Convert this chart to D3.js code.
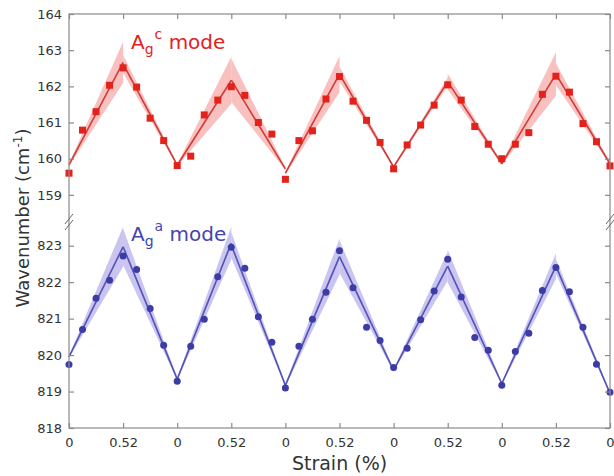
<!DOCTYPE html>
<html>
<head>
  <meta charset='utf-8'>
  <title>Strain cycling</title>
  <script src="https://cdnjs.cloudflare.com/ajax/libs/d3/7.8.5/d3.min.js"></script>
  <style>
    body { margin: 0; background: #fff; }
    text { font-family: "DejaVu Sans", Verdana, sans-serif; }
  </style>
</head>
<body>
  <svg width="614" height="476" id="chart"></svg>
  <script>

    // strain labels along x (10 half cycles, 4 steps each)
    const strainTicks = ["0", "0.52", "0", "0.52", "0", "0.52", "0", "0.52", "0", "0.52", "0"];
    const topTicks = [159, 160, 161, 162, 163, 164];
    const bottomTicks = [818, 819, 820, 821, 822, 823];

    // Ag^c mode (cm-1), one value per strain step
    const redValues = [159.6, 160.79, 161.3, 162.03, 162.51, 161.98, 161.12, 160.5, 159.81,
      160.07, 161.21, 161.62, 161.99, 161.75, 161.0, 160.68, 159.43,
      160.5, 160.77, 161.65, 162.27, 161.59, 161.06, 160.45, 159.72,
      160.38, 160.93, 161.48, 162.04, 161.62, 160.89, 160.4, 160.0,
      160.4, 160.72, 161.78, 162.28, 161.84, 160.97, 160.47, 159.8];
    // Ag^a mode (cm-1)
    const blueValues = [819.74, 820.7, 821.56, 822.05, 822.72, 822.35, 821.28, 820.27, 819.28,
      820.24, 820.98, 822.15, 822.96, 822.38, 821.05, 820.35, 819.1,
      820.24, 820.98, 821.72, 822.86, 821.85, 820.76, 820.4, 819.66,
      820.19, 820.97, 821.76, 822.63, 821.59, 820.48, 820.13, 819.17,
      820.1, 820.6, 821.77, 822.4, 821.74, 820.76, 819.75, 818.98];

    // linear fits per half cycle: value at start / end, band half width at the peak end
    const redFitStart = [159.83, 162.62, 159.82, 162.17, 159.6, 162.34, 159.77, 162.13, 159.86, 162.34];
    const redFitEnd = [162.66, 159.82, 162.17, 159.72, 162.34, 159.77, 162.13, 159.86, 162.34, 159.86];
    const redBand = [0.57, 0.25, 0.65, 0.6, 0.5, 0.2, 0.12, 0.22, 0.6, 0.3];

    const blueFitStart = [819.95, 822.97, 819.34, 823.02, 819.17, 822.7, 819.58, 822.44, 819.22, 822.44];
    const blueFitEnd = [822.97, 819.34, 823.07, 819.17, 822.7, 819.58, 822.44, 819.22, 822.44, 818.95];
    const blueBand = [0.55, 0.5, 0.45, 0.35, 0.5, 0.45, 0.4, 0.45, 0.35, 0.2];

    const svg = d3.select('#chart');
    const mLeft = 69, mRight = 610, mTop = 14, mBottom = 428, brk = 222;

    const x = d3.scaleLinear().domain([0, 40]).range([mLeft, mRight]);
    const yTop = d3.scaleLinear().domain([158.25, 164]).range([brk, mTop]);
    const yBot = d3.scaleLinear().domain([818, 823.65]).range([mBottom, brk]);

    const axisColor = '#8a8a8a';
    const labelColor = '#333';

    function drawSeries(values, fitStart, fitEnd, band, y, c) {
      const segs = fitStart.map((s, i) => {
        const rising = i % 2 === 0;
        const w0 = rising ? 0.03 : band[i];
        const w1 = rising ? band[i] : 0.03;
        return [
          { x: i * 4, v: s, w: w0 },
          { x: i * 4 + 4, v: fitEnd[i], w: w1 }
        ];
      });
      const area = d3.area()
        .x(d => x(d.x))
        .y0(d => y(d.v - d.w))
        .y1(d => y(d.v + d.w));
      const line = d3.line().x(d => x(d.x)).y(d => y(d.v));

      svg.append('g').selectAll('path')
        .data(segs).join('path')
        .attr('d', area)
        .attr('fill', c.band)
        .attr('fill-opacity', c.bandOpacity);

      svg.append('g').selectAll('path')
        .data(segs).join('path')
        .attr('d', line)
        .attr('fill', 'none')
        .attr('stroke', c.line)
        .attr('stroke-width', 1.6);

      const pts = svg.append('g');
      if (c.shape === 'square') {
        pts.selectAll('rect').data(values).join('rect')
          .attr('x', (d, i) => x(i) - 3.5)
          .attr('y', d => y(d) - 3.5)
          .attr('width', 7).attr('height', 7)
          .attr('fill', c.marker);
      } else {
        pts.selectAll('circle').data(values).join('circle')
          .attr('cx', (d, i) => x(i))
          .attr('cy', d => y(d))
          .attr('r', 3.5)
          .attr('fill', c.marker);
      }
    }

    drawSeries(redValues, redFitStart, redFitEnd, redBand, yTop,
      { band: '#f7a5a5', bandOpacity: 0.7, line: '#d23a35', marker: '#e3221c', shape: 'square' });
    drawSeries(blueValues, blueFitStart, blueFitEnd, blueBand, yBot,
      { band: '#b4abe9', bandOpacity: 0.7, line: '#5252b8', marker: '#3c3ca6', shape: 'circle' });

    // frame
    svg.append('rect')
      .attr('x', mLeft).attr('y', mTop)
      .attr('width', mRight - mLeft).attr('height', mBottom - mTop)
      .attr('fill', 'none').attr('stroke', axisColor).attr('stroke-width', 1.2);

    // x ticks bottom + top (inward)
    const xTickPos = strainTicks.map((d, i) => i * 4);
    const gx = svg.append('g')
      .attr('transform', `translate(0,${mBottom})`)
      .call(d3.axisBottom(x).tickValues(xTickPos).tickSize(-5).tickPadding(10)
        .tickFormat((d, i) => strainTicks[i]));
    const gxTop = svg.append('g')
      .attr('transform', `translate(0,${mTop})`)
      .call(d3.axisTop(x).tickValues(xTickPos).tickSize(-5).tickFormat(''));

    // y ticks left + right, both panels
    const gyT = svg.append('g').attr('transform', `translate(${mLeft},0)`)
      .call(d3.axisLeft(yTop).tickValues(topTicks).tickSize(-5).tickPadding(7).tickFormat(d3.format('d')));
    const gyB = svg.append('g').attr('transform', `translate(${mLeft},0)`)
      .call(d3.axisLeft(yBot).tickValues(bottomTicks).tickSize(-5).tickPadding(7).tickFormat(d3.format('d')));
    const gyTR = svg.append('g').attr('transform', `translate(${mRight},0)`)
      .call(d3.axisRight(yTop).tickValues(topTicks).tickSize(-5).tickFormat(''));
    const gyBR = svg.append('g').attr('transform', `translate(${mRight},0)`)
      .call(d3.axisRight(yBot).tickValues(bottomTicks).tickSize(-5).tickFormat(''));

    [gx, gxTop, gyT, gyB, gyTR, gyBR].forEach(g => {
      g.select('.domain').remove();
      g.selectAll('line').attr('stroke', axisColor).attr('stroke-width', 1.2);
      g.selectAll('text').attr('fill', labelColor).style('font-size', '13px')
        .style('font-family', '"DejaVu Sans", Verdana, sans-serif');
    });

    // axis break marks
    [mLeft, mRight].forEach(ax => {
      [-3, 3].forEach(off => {
        svg.append('line')
          .attr('x1', ax - 4).attr('y1', brk + off + 5)
          .attr('x2', ax + 4).attr('y2', brk + off - 5)
          .attr('stroke', '#666').attr('stroke-width', 1);
      });
    });

    // mode labels
    function modeLabel(yb, sup, color) {
      const t = svg.append('text').attr('x', 131).attr('y', yb)
        .attr('fill', color).style('font-size', '20px');
      t.append('tspan').text('A');
      t.append('tspan').attr('dy', 5).style('font-size', '14px').text('g');
      t.append('tspan').attr('dy', -15).attr('dx', 1).style('font-size', '14px').text(sup);
      t.append('tspan').attr('dy', 10).text(' mode');
    }
    modeLabel(49, 'c', '#e3221c');
    modeLabel(241, 'a', '#4444b0');

    // axis titles
    svg.append('text')
      .attr('x', (mLeft + mRight) / 2).attr('y', 470)
      .attr('text-anchor', 'middle')
      .attr('fill', labelColor)
      .style('font-size', '19px')
      .text('Strain (%)');

    const yl = svg.append('text')
      .attr('transform', `translate(29,218) rotate(-90)`)
      .attr('text-anchor', 'middle')
      .attr('fill', labelColor)
      .style('font-size', '18px');
    yl.append('tspan').text('Wavenumber (cm');
    yl.append('tspan').attr('dy', -7).style('font-size', '12px').text('-1');
    yl.append('tspan').attr('dy', 7).text(')');

  </script>
</body>
</html>
